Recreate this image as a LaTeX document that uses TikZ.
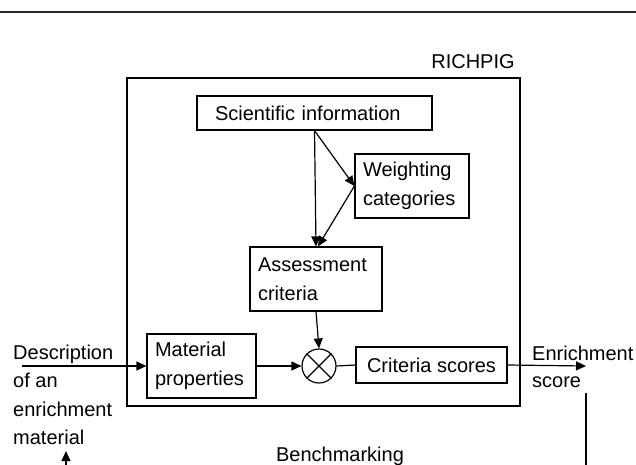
\documentclass[tikz,border=0pt]{standalone}
\usepackage{fontspec}
\setmainfont{Liberation Sans}
\usetikzlibrary{arrows.meta}
\begin{document}
\begin{tikzpicture}[x=1pt,y=-1pt,
  every node/.style={font=\fontsize{20}{28.5}\selectfont, text=black},
  box/.style={draw=black, line width=1.2pt, rectangle, inner ysep=0pt, align=left},
  lbl/.style={inner sep=0pt, align=left},
  conn/.style={draw=black, line width=1.2pt},
  arr/.style={conn, -{Triangle[length=10pt,width=9pt]}}]
\useasboundingbox (0,0) rectangle (636,464);
% top rule
\coordinate (rl) at (0,12);
\coordinate (rr) at (636,12);
\draw[line width=2.4pt, black!85] (rl) -- (rr);
% outer box
\node[draw=black, line width=1.2pt, minimum width=393pt, minimum height=328pt, inner sep=0pt] (outer) at (323.5,242) {};
\node[lbl] (richpig) at (473,62) {RICHPIG};
% boxes
\node[box, inner xsep=18pt, text width=199pt, minimum height=34pt] (sci) at (314.5,113) {Scientific information};
\node[box, inner xsep=8pt, text width=98pt, minimum height=64pt] (wgt) at (412,186) {Weighting\\categories};
\node[box, inner xsep=8pt, text width=116pt, minimum height=64pt] (ass) at (316,279) {Assessment\\criteria};
\node[box, inner xsep=8pt, text width=93pt, minimum height=64pt] (mat) at (201.5,366) {Material\\properties};
\node[box, align=center, inner xsep=0pt, minimum width=151pt, minimum height=36pt] (crit) at (431.5,365) {Criteria scores};
\node[draw=black, line width=1.2pt, circle, minimum size=34pt, inner sep=0pt] (mul) at (319,366) {};
\draw[conn] (mul.45) -- (mul.225) (mul.135) -- (mul.315);
% outside labels
\node[lbl, anchor=west] (desc) at (13,395) {Description\\of an\\enrichment\\material};
\node[lbl, anchor=west, font=\fontsize{20}{27}\selectfont] (enr) at (532,366.5) {Enrichment\\score};
\node[lbl] (bench) at (340,456) {Benchmarking};
% connectors
\coordinate (in) at (22,366);
\coordinate (out) at (586,366);
\coordinate (dtop) at (586,393);
\coordinate (dbot) at (586,466);
\coordinate (ubot) at (66,466);
\coordinate (utop) at (66,451);
\draw[arr] (in) -- (mat.west);
\draw[arr] (mat.east) -- (mul.west);
\draw[arr] (ass.south) -- (mul.north);
\draw[conn] (mul.east) -- (crit.west);
\draw[arr] (crit.east) -- (out);
\draw[arr] (sci.south) -- (ass.north);
\draw[arr] (sci.south) -- (wgt.west);
\draw[arr] (wgt.west) -- ([xshift=2pt]ass.north);
\draw[conn] (dtop) -- (dbot);
\draw[arr] (ubot) -- (utop);
\end{tikzpicture}
\end{document}
